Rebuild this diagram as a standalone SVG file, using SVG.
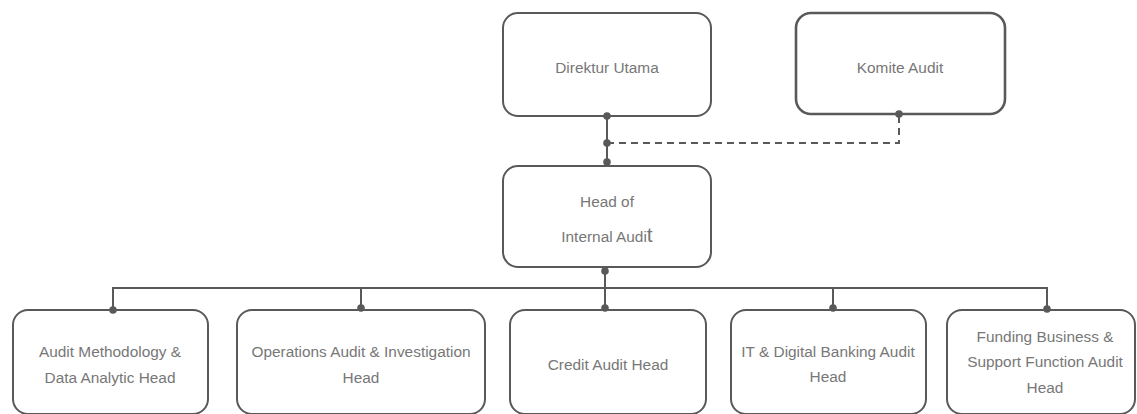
<svg xmlns="http://www.w3.org/2000/svg" width="1137" height="414" viewBox="0 0 1137 414">
  <style>
    .box { fill: #ffffff; stroke: #595959; stroke-width: 2; }
    .box-strong { stroke-width: 2.6; }
    .lbl { font-family: "Liberation Sans", Arial, sans-serif; font-size: 15.4px; fill: #777777; text-anchor: middle; }
    .wire { fill: none; stroke: #595959; stroke-width: 2; }
    .dash { fill: none; stroke: #595959; stroke-width: 2; stroke-dasharray: 7 5; }
    .dot { fill: #595959; }
  </style>
  <rect width="1137" height="414" fill="#ffffff"/>

  <g id="direktur-utama">
    <rect class="box" x="503" y="13" width="208" height="103" rx="15"/>
    <text class="lbl" x="607" y="73">Direktur Utama</text>
  </g>

  <g id="komite-audit">
    <rect class="box box-strong" x="796" y="13" width="209" height="101" rx="15"/>
    <text class="lbl" x="900" y="73">Komite Audit</text>
  </g>

  <g id="head-internal-audit">
    <rect class="box" x="503" y="166" width="208" height="101" rx="15"/>
    <text class="lbl" x="607" y="207">Head of</text>
    <text class="lbl" x="607" y="242">Internal Audi<tspan font-size="21">t</tspan></text>
  </g>

  <g id="audit-methodology">
    <rect class="box" x="13" y="310" width="195" height="104" rx="15"/>
    <text class="lbl" x="110" y="357">Audit Methodology &amp;</text>
    <text class="lbl" x="110" y="383">Data Analytic Head</text>
  </g>

  <g id="operations-audit">
    <rect class="box" x="237" y="310" width="248" height="104" rx="15"/>
    <text class="lbl" x="361" y="357">Operations Audit &amp; Investigation</text>
    <text class="lbl" x="361" y="383">Head</text>
  </g>

  <g id="credit-audit">
    <rect class="box" x="510" y="310" width="196" height="104" rx="15"/>
    <text class="lbl" x="608" y="370">Credit Audit Head</text>
  </g>

  <g id="it-digital-banking">
    <rect class="box" x="731" y="310" width="195" height="104" rx="15"/>
    <text class="lbl" x="828" y="357">IT &amp; Digital Banking Audit</text>
    <text class="lbl" x="828" y="382">Head</text>
  </g>

  <g id="funding-support">
    <rect class="box" x="947" y="310" width="188" height="104" rx="15"/>
    <text class="lbl" x="1045" y="342">Funding Business &amp;</text>
    <text class="lbl" x="1045" y="367">Support Function Audit</text>
    <text class="lbl" x="1045" y="393">Head</text>
  </g>

  <!-- connectors, drawn on top so the joint dots sit over the box edges -->
  <g id="connectors">
    <line class="wire" x1="607" y1="116" x2="607" y2="166"/>
    <polyline class="dash" points="607,143 899,143 899,114"/>
    <line class="wire" x1="605" y1="267" x2="605" y2="310"/>
    <polyline class="wire" points="113,310 113,288 1047,288 1047,310"/>
    <line class="wire" x1="361" y1="288" x2="361" y2="310"/>
    <line class="wire" x1="833" y1="288" x2="833" y2="310"/>
    <circle class="dot" cx="607" cy="116" r="3.8"/>
    <circle class="dot" cx="607" cy="143" r="3.8"/>
    <circle class="dot" cx="607" cy="162" r="3.8"/>
    <circle class="dot" cx="899" cy="114" r="3.8"/>
    <circle class="dot" cx="605" cy="271" r="3.8"/>
    <circle class="dot" cx="113" cy="310" r="3.8"/>
    <circle class="dot" cx="361" cy="308" r="3.8"/>
    <circle class="dot" cx="605" cy="308" r="3.8"/>
    <circle class="dot" cx="833" cy="308" r="3.8"/>
    <circle class="dot" cx="1047" cy="309" r="3.8"/>
  </g>
</svg>
